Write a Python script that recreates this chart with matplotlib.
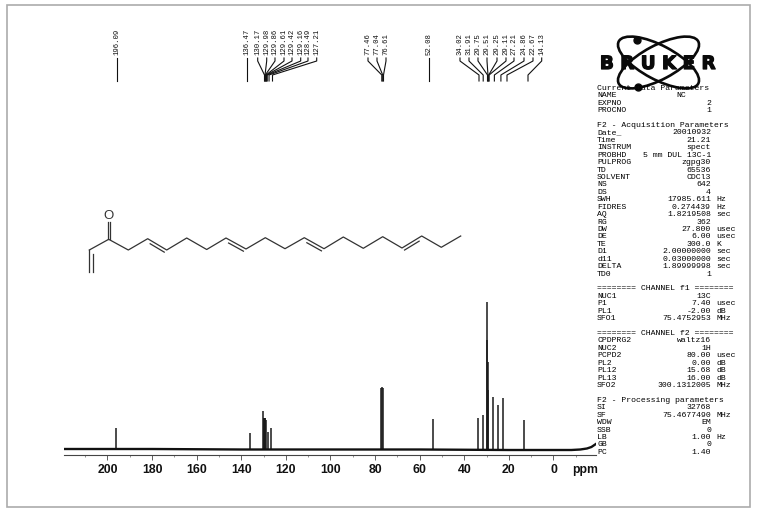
import numpy as np
import matplotlib
matplotlib.use("Agg")
import matplotlib.pyplot as plt
import matplotlib.patheffects as pe
from matplotlib.patches import Ellipse, Rectangle

W, H = 757, 513

# peaks (ppm, height above baseline)
peak_ppm = [196.3, 136.2, 130.1, 129.9, 129.7, 129.5, 129.3, 129.1, 128.0, 126.9,
            77.4, 77.0, 76.6, 54.0, 34.0, 31.8, 29.8, 29.6, 29.4, 29.2, 27.1, 24.9, 22.6, 13.2]
peak_height = [22, 17, 39, 32, 32, 32, 32, 30, 18, 22,
               62, 63, 62, 31, 32, 35, 148, 110, 88, 60, 53, 45, 52, 30]

baseline_ppm = [219.5, 180, 140, 100, 60, 20, -8, -12, -15, -17, -19]
baseline_val = [1, 1, 0.5, 0.5, 0.5, 0, 0, 0.5, 1.5, 3, 6]

tick_ppm = [200, 180, 160, 140, 120, 100, 80, 60, 40, 20, 0]

# peak labels printed at the top of the plot
label_vals = ["196.09", "136.47", "130.17", "129.98", "129.86", "129.61", "129.42", "129.16",
              "128.49", "127.21", "77.46", "77.04", "76.61", "52.08", "34.02", "31.91",
              "29.75", "29.51", "29.25", "29.11", "27.21", "24.86", "22.67", "14.13"]
label_x = [117, 247, 257.7, 266.7, 275, 284, 292, 300.7, 308, 316.7, 368, 377, 386, 429,
           460, 469, 478, 487, 497, 506, 514, 524, 533, 541.7]

# where label values land on the printed strip (it is not quite linear)
foot_ppm = [14.13, 22.67, 29.5, 34.02, 52.08, 77.04, 127.21, 130.17, 136.47, 196.09]
foot_px = [528, 507, 488, 479, 429, 382.7, 272.5, 264.5, 247, 117]

# acquisition text, one row per line: key, value, unit
param_rows = [
    ("Current Data Parameters", "", ""),
    ("NAME", "NC", ""), ("EXPNO", "2", ""), ("PROCNO", "1", ""),
    ("", "", ""),
    ("F2 - Acquisition Parameters", "", ""),
    ("Date_", "20010932", ""), ("Time", "21.21", ""), ("INSTRUM", "spect", ""),
    ("PROBHD", "5 mm DUL 13C-1", ""), ("PULPROG", "zgpg30", ""), ("TD", "65536", ""),
    ("SOLVENT", "CDCl3", ""), ("NS", "642", ""), ("DS", "4", ""),
    ("SWH", "17985.611", "Hz"), ("FIDRES", "0.274439", "Hz"), ("AQ", "1.8219508", "sec"),
    ("RG", "362", ""), ("DW", "27.800", "usec"), ("DE", "6.00", "usec"),
    ("TE", "300.0", "K"), ("D1", "2.00000000", "sec"), ("d11", "0.03000000", "sec"),
    ("DELTA", "1.89999998", "sec"), ("TD0", "1", ""),
    ("", "", ""),
    ("======== CHANNEL f1 ========", "", ""),
    ("NUC1", "13C", ""), ("P1", "7.40", "usec"), ("PL1", "-2.00", "dB"),
    ("SFO1", "75.4752953", "MHz"),
    ("", "", ""),
    ("======== CHANNEL f2 ========", "", ""),
    ("CPDPRG2", "waltz16", ""), ("NUC2", "1H", ""), ("PCPD2", "80.00", "usec"),
    ("PL2", "0.00", "dB"), ("PL12", "15.68", "dB"), ("PL13", "16.00", "dB"),
    ("SFO2", "300.1312005", "MHz"),
    ("", "", ""),
    ("F2 - Processing parameters", "", ""),
    ("SI", "32768", ""), ("SF", "75.4677490", "MHz"), ("WDW", "EM", ""), ("SSB", "0", ""),
    ("LB", "1.00", "Hz"), ("GB", "0", ""), ("PC", "1.40", ""),
]

# molecule skeleton, drawn on the page
chain_x = [89.3, 108.7, 128.3, 147.7, 166.7, 186.7, 206.7, 226, 246, 265.3, 285, 304.3, 324,
           343.3, 363.3, 382.7, 402, 421.7, 441.3, 460.7]
chain_y = [250, 239.3, 250, 238.7, 250, 238, 249.5, 238, 249, 237.7, 248.7, 237.7, 248.7,
           237, 248.3, 236.7, 248, 236, 247.3, 236]
double_segs = [(3, 4), (7, 8), (11, 12), (16, 17)]

fig = plt.figure(figsize=(W / 100, H / 100), dpi=100)

# page overlay in pixel coordinates
page = fig.add_axes([0, 0, 1, 1])
page.set_xlim(0, W)
page.set_ylim(H, 0)
page.axis("off")
page.add_patch(Rectangle((6.5, 5), 743.5, 501.5, fill=False, ec="#ababab", lw=1.2))

# spectrum axes
ax = fig.add_axes([64 / W, 1 - 455 / H, (596 - 64) / W, 170 / H])
ax.patch.set_alpha(0)
ax.set_xlim(219.5, -19.06)
ax.set_ylim(-5, 165)
ax.vlines(peak_ppm, 0, peak_height, color="#1a1a1a", lw=1.1)
ax.plot(baseline_ppm, baseline_val, color="#111111", lw=1.7)
for s in ["top", "left", "right"]:
    ax.spines[s].set_visible(False)
ax.spines["bottom"].set_color("#444444")
ax.spines["bottom"].set_linewidth(0.8)
ax.set_yticks([])
ax.set_xticks(tick_ppm)
ax.set_xticks(np.arange(-10, 220, 10), minor=True)
ax.tick_params(axis="x", which="major", length=3.6, width=0.6, color="#444444", pad=2.6)
ax.tick_params(axis="x", which="minor", length=1.5, width=0.5, color="#666666")
ax.set_xticklabels([str(t) for t in tick_ppm], fontfamily="Liberation Sans",
                   fontweight="bold", fontsize=8.8, color="#111111")
page.text(572, 469.5, "ppm", family="Liberation Sans", weight="bold", fontsize=8.8,
          color="#111111", va="center", ha="left")

# peak labels with their connectors
label_ppm = [float(v) for v in label_vals]
for lab, lx, p in zip(label_vals, label_x, label_ppm):
    fx = np.interp(p, foot_ppm, foot_px)
    page.text(lx, 55, lab, rotation=90, family="Liberation Mono", fontsize=5.2,
              ha="center", va="bottom", color="#111111")
    page.plot([lx, lx, fx, fx], [58, 61, 75, 81], color="#111111", lw=0.8)

# molecule
page.plot(chain_x, chain_y, color="#333333", lw=0.9)
page.plot([chain_x[0], chain_x[0]], [chain_y[0], 272.3], color="#333333", lw=0.9)
page.plot([93.3, 93.3], [254, 272.3], color="#333333", lw=0.9)
page.plot([107.6, 107.6], [222, 238.5], color="#333333", lw=0.9)
page.plot([110, 110], [222, 238.5], color="#333333", lw=0.9)
page.text(108.7, 216, "O", family="Liberation Sans", fontsize=9.5, ha="center", va="center",
          color="#333333")
for a, b in double_segs:
    xa, xb = chain_x[a], chain_x[b]
    ya, yb = chain_y[a], chain_y[b]
    page.plot([xa + 0.13 * (xb - xa), xa + 0.87 * (xb - xa)],
              [ya + 0.13 * (yb - ya) + 3.6, ya + 0.87 * (yb - ya) + 3.6],
              color="#333333", lw=0.9)

# logo
for ang in [28, -28]:
    page.add_patch(Ellipse((658.5, 62.5), 90, 34, angle=ang, fill=False, ec="#0a0a0a", lw=1.9))
page.plot([637, 638], [40, 87], "o", color="#0a0a0a", ms=5)
page.text(657.7, 64, "B R U K E R", family="DejaVu Sans", weight="bold", fontsize=13.2,
          ha="center", va="center", color="#0a0a0a",
          path_effects=[pe.withStroke(linewidth=0.9, foreground="#0a0a0a")])

# parameter block
for i, (key, val, unit) in enumerate(param_rows):
    y = 88.3 + 7.43 * i
    if key:
        page.text(597, y, key, family="Liberation Mono", fontsize=5.9, va="center", color="#000000")
    if val:
        xr = 686 if key == "NAME" else 711
        page.text(xr, y, val, family="Liberation Mono", fontsize=5.9, va="center", ha="right",
                  color="#000000")
    if unit:
        page.text(716.5, y, unit, family="Liberation Mono", fontsize=5.9, va="center",
                  color="#000000")

fig.savefig("out.png", dpi=100)
